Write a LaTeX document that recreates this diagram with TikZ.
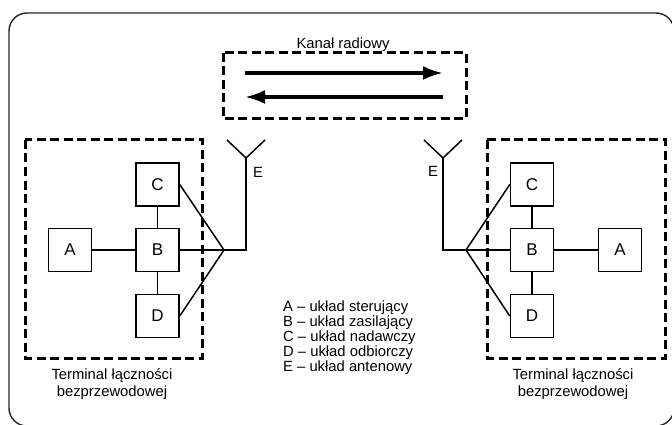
\documentclass[tikz,border=0pt]{standalone}
\usepackage{fontspec}
\setmainfont{Liberation Sans}
\usetikzlibrary{arrows.meta}
\begin{document}
\begin{tikzpicture}[x=1pt,y=-1pt,
  unit/.style={draw,line width=1.5pt,minimum width=43pt,minimum height=43pt,inner sep=0pt,font=\fontsize{17}{17}\selectfont},
  frame/.style={draw,line width=3pt,dash pattern=on 9pt off 4.5pt},
  wire/.style={line width=1.5pt},
  radio/.style={line width=3.4pt,-{Latex[length=20pt,width=14pt]}},
  lbl/.style={font=\fontsize{14.8}{17}\selectfont,inner sep=0pt},
  leg/.style={font=\fontsize{14.8}{15}\selectfont,inner sep=0pt,anchor=west}]
\useasboundingbox (0,0) rectangle (672,425);
\begin{scope}
\clip (0,0) rectangle (672,425);
\draw[line width=1.4pt,draw=black!85,rounded corners=18pt] (9,13) rectangle (674,426);
\end{scope}

% radio channel
\draw[frame] (223,53) rectangle (466,119);
\node[lbl] (kanal) at (343,45) {Kanał radiowy};
\coordinate (r1) at (245,73); \coordinate (r2) at (443,73);
\coordinate (r3) at (443,97); \coordinate (r4) at (245,97);
\draw[radio] (r1) -- (r2);
\draw[radio] (r3) -- (r4);

% left terminal
\draw[frame] (25,140) rectangle (202,358);
\node[unit] (LA) at (70,250) {A};
\node[unit] (LB) at (157.5,250) {B};
\node[unit] (LC) at (157.5,184.5) {C};
\node[unit] (LD) at (157.5,316) {D};
\coordinate (LJ) at (224,250);
\coordinate (LK) at (246,250);
\coordinate (LT) at (246,158);
\coordinate (LV1) at (227,140);
\coordinate (LV2) at (265,140);
\draw[wire] (LA) -- (LB);
\draw[wire] (LB) -- (LC);
\draw[wire] (LB) -- (LD);
\draw[wire] (LB) -- (LJ);
\draw[wire] (LC.east) -- (LJ) -- (LD.east);
\draw[wire] (LJ) -- (LK) -- (LT);
\draw[wire] (LV1) -- (LT) -- (LV2);
\node[lbl] (LE) at (258,172) {E};
\node[lbl,align=center] (LTxt) at (112,384) {Terminal łączności\\bezprzewodowej};

% right terminal
\draw[frame] (487,140) rectangle (665,358);
\node[unit] (RA) at (620,250) {A};
\node[unit] (RB) at (532,250) {B};
\node[unit] (RC) at (532,184.5) {C};
\node[unit] (RD) at (532,316) {D};
\coordinate (RJ) at (466,250);
\coordinate (RK) at (443,250);
\coordinate (RT) at (443,158);
\coordinate (RV1) at (424,140);
\coordinate (RV2) at (462,140);
\draw[wire] (RA) -- (RB);
\draw[wire] (RB) -- (RC);
\draw[wire] (RB) -- (RD);
\draw[wire] (RB) -- (RJ);
\draw[wire] (RC.west) -- (RJ) -- (RD.west);
\draw[wire] (RJ) -- (RK) -- (RT);
\draw[wire] (RV1) -- (RT) -- (RV2);
\node[lbl] (RE) at (433,171) {E};
\node[lbl,align=center] (RTxt) at (573,384) {Terminal łączności\\bezprzewodowej};

% legend
\node[leg] (l1) at (283,308) {A – układ sterujący};
\node[leg] (l2) at (283,323) {B – układ zasilający};
\node[leg] (l3) at (283,338) {C – układ nadawczy};
\node[leg] (l4) at (283,353) {D – układ odbiorczy};
\node[leg] (l5) at (283,368) {E – układ antenowy};
\end{tikzpicture}
\end{document}
